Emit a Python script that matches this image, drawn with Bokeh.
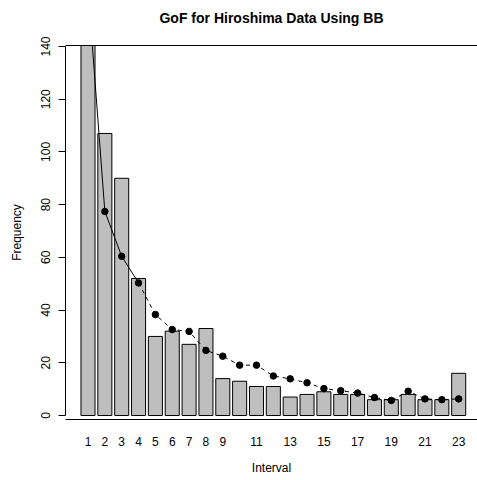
from bokeh.plotting import figure
from bokeh.models import FixedTicker, Range1d, LinearAxis
from bokeh.embed import file_html
from bokeh.resources import INLINE

# ---- data ----
intervals = list(range(1, 24))
observed = [180, 107, 90, 52, 30, 32, 27, 33, 14, 13, 11, 11, 7, 8, 9, 8, 8, 6, 6, 8, 6, 6, 16]
expected = [162, 77.4, 60.4, 50.3, 38.3, 32.6, 31.9, 24.7, 22.5, 19.1, 19.1, 15.0, 13.9,
            12.4, 10.2, 9.4, 8.5, 6.8, 5.7, 9.2, 6.3, 6.0, 6.3]
y_ticks = [0, 20, 40, 60, 80, 100, 120, 140]
x_tick_positions = [1, 2, 3, 4, 5, 6, 7, 8, 9, 11, 13, 15, 17, 19, 21, 23]
title_text = "GoF for Hiroshima Data Using BB"
x_label = "Interval"
y_label = "Frequency"

FONT = "Liberation Sans"
n_solid = 4  # the steep first segments look solid in the reference

p = figure(width=477, height=480,
           x_range=Range1d(-0.335, 24.116), y_range=Range1d(-1.52, 140.38),
           output_backend="svg", toolbar_location=None,
           min_border_left=65, min_border_right=0, min_border_top=45, min_border_bottom=61)

p.background_fill_color = "white"
p.border_fill_color = "white"
p.outline_line_color = None
p.grid.visible = False
p.title.text = ""
p.title.standoff = 0

# bottom x axis (grab it before adding the top axis)
xa = p.below[0]
xa.ticker = FixedTicker(ticks=x_tick_positions)
xa.major_tick_line_color = None
xa.minor_tick_line_color = None
xa.axis_line_color = "black"
xa.major_label_text_font = FONT
xa.major_label_text_font_size = "12px"
xa.major_label_text_color = "black"
xa.major_label_standoff = 11
xa.axis_label = x_label
xa.axis_label_text_font = FONT
xa.axis_label_text_font_size = "12px"
xa.axis_label_text_font_style = "normal"
xa.axis_label_text_color = "black"
xa.axis_label_standoff = 12

# y axis
ya = p.left[0]
ya.ticker = FixedTicker(ticks=y_ticks)
ya.bounds = (0, 140)
ya.minor_tick_line_color = None
ya.major_tick_out = 7
ya.major_tick_in = 0
ya.major_tick_line_color = "black"
ya.axis_line_color = "black"
ya.major_label_orientation = "vertical"
ya.major_label_text_font = FONT
ya.major_label_text_font_size = "12px"
ya.major_label_text_color = "black"
ya.major_label_standoff = 8
ya.axis_label = y_label
ya.axis_label_text_font = FONT
ya.axis_label_text_font_size = "12px"
ya.axis_label_text_font_style = "normal"
ya.axis_label_text_color = "black"
ya.axis_label_standoff = 15

# top axis: its line is the top rule, its label is the chart title
top = LinearAxis(ticker=FixedTicker(ticks=[]))
top.major_tick_line_color = None
top.minor_tick_line_color = None
top.major_tick_out = 0
top.major_tick_in = 0
top.major_label_text_font_size = "0px"
top.major_label_standoff = 0
top.axis_line_color = "black"
top.axis_label = title_text
top.axis_label_text_font = FONT
top.axis_label_text_font_size = "14px"
top.axis_label_text_font_style = "bold"
top.axis_label_text_color = "black"
top.axis_label_standoff = 20
p.add_layout(top, "above")

# bars
p.vbar(x=intervals, top=observed, width=1 / 1.2, bottom=0,
       fill_color="#BEBEBE", line_color="black", line_width=1)

# expected line + points
p.line(x=intervals[:n_solid], y=expected[:n_solid], line_color="black", line_width=1)
p.line(x=intervals[n_solid - 1:], y=expected[n_solid - 1:], line_color="black",
       line_width=1, line_dash="4 4")
p.scatter(x=intervals, y=expected, size=6.5, fill_color="black", line_color="black")

open("out.html", "w").write(file_html(p, INLINE))
